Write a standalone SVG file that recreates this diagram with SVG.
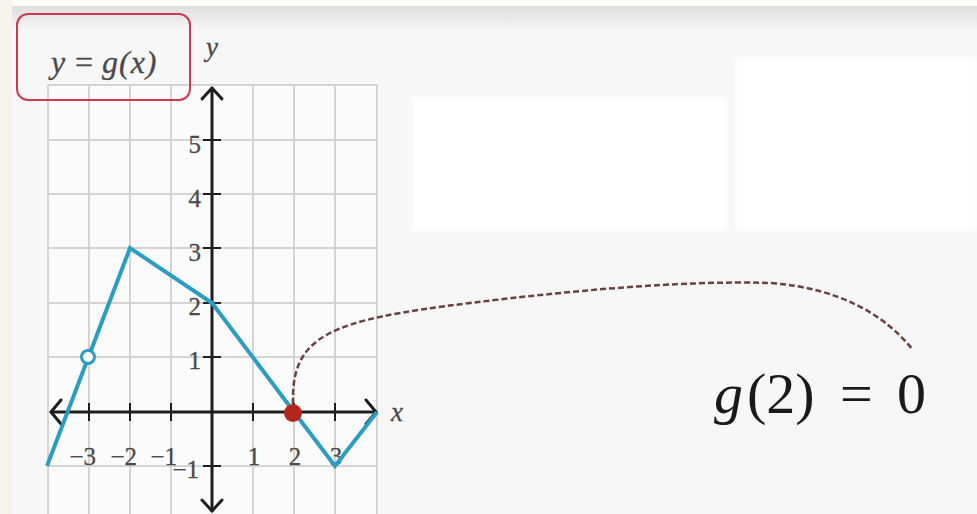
<svg xmlns="http://www.w3.org/2000/svg" width="977" height="514" viewBox="0 0 977 514">
  <defs>
    <linearGradient id="topShade" x1="0" y1="0" x2="0" y2="1">
      <stop offset="0" stop-color="#dedede"/>
      <stop offset="1" stop-color="#f7f7f7"/>
    </linearGradient>
    <filter id="soft" x="-5%" y="-5%" width="110%" height="110%">
      <feGaussianBlur stdDeviation="2"/>
    </filter>
  </defs>
  <style>
    .grid { stroke: #d4d4d4; stroke-width: 2; fill: none; }
    .axis { stroke: #1e1e1e; stroke-width: 3; fill: none; stroke-linecap: round; stroke-linejoin: round; }
    .tick { stroke: #1e1e1e; stroke-width: 2; }
    .fn { stroke: #2a9dc1; stroke-width: 4; fill: none; stroke-linejoin: miter; }
    .lbl { font-family: "Liberation Serif", "DejaVu Serif", serif; font-size: 25px; fill: #4a4a4a; stroke: #4a4a4a; stroke-width: 0.3; }
    .var { font-family: "Liberation Serif", "DejaVu Serif", serif; font-style: italic; font-size: 27px; fill: #4a4a4a; stroke: #4a4a4a; stroke-width: 0.3; }
    .title { font-size: 32px; }
    .big { font-family: "Liberation Serif", "DejaVu Serif", serif; font-size: 58px; fill: #1a1a1a; }
    .conn { stroke: #6a4040; stroke-width: 2.5; fill: none; stroke-dasharray: 6 3; }
  </style>

  <!-- background -->
  <rect x="0" y="0" width="977" height="514" fill="#f7f7f7"/>
  <rect x="0" y="6" width="977" height="26" fill="url(#topShade)"/>
  <rect x="0" y="0" width="977" height="6" fill="#fcfcf8"/>
  <rect x="0" y="0" width="12" height="514" fill="#f4f4ea"/>
  <rect x="413" y="97" width="314" height="133" fill="#ffffff" filter="url(#soft)"/>
  <rect x="735" y="58" width="242" height="172" fill="#ffffff" filter="url(#soft)"/>

  <g id="graph">
    <rect x="48" y="85" width="330" height="429" fill="#fbfbfb"/>
    <g class="grid">
      <line x1="48" y1="85" x2="48" y2="514"/>
      <line x1="89" y1="85" x2="89" y2="514"/>
      <line x1="130" y1="85" x2="130" y2="514"/>
      <line x1="171" y1="85" x2="171" y2="514"/>
      <line x1="253" y1="85" x2="253" y2="514"/>
      <line x1="294" y1="85" x2="294" y2="514"/>
      <line x1="335" y1="85" x2="335" y2="514"/>
      <line x1="377" y1="85" x2="377" y2="514"/>
      <line x1="48" y1="85" x2="378" y2="85"/>
      <line x1="48" y1="140" x2="378" y2="140"/>
      <line x1="48" y1="194" x2="378" y2="194"/>
      <line x1="48" y1="248" x2="378" y2="248"/>
      <line x1="48" y1="303" x2="378" y2="303"/>
      <line x1="48" y1="357" x2="378" y2="357"/>
      <line x1="48" y1="466" x2="378" y2="466"/>
    </g>
    <!-- axes -->
    <line class="axis" x1="51" y1="412" x2="376" y2="412"/>
    <line class="axis" x1="212" y1="88" x2="212" y2="511"/>
    <polyline class="axis" points="61,400 51,412 61,424"/>
    <polyline class="axis" points="366,400 376,412 366,424"/>
    <polyline class="axis" points="202,99 212,88 222,99"/>
    <polyline class="axis" points="202,500 212,511 222,500"/>
    <!-- ticks -->
    <g class="tick">
      <line x1="89" y1="403" x2="89" y2="421"/>
      <line x1="130" y1="403" x2="130" y2="421"/>
      <line x1="171" y1="403" x2="171" y2="421"/>
      <line x1="253" y1="403" x2="253" y2="421"/>
      <line x1="294" y1="403" x2="294" y2="421"/>
      <line x1="335" y1="403" x2="335" y2="421"/>
      <line x1="203" y1="140" x2="221" y2="140"/>
      <line x1="203" y1="194" x2="221" y2="194"/>
      <line x1="203" y1="248" x2="221" y2="248"/>
      <line x1="203" y1="303" x2="221" y2="303"/>
      <line x1="203" y1="357" x2="221" y2="357"/>
      <line x1="203" y1="466" x2="221" y2="466"/>
    </g>
    <!-- tick labels -->
    <text class="lbl" x="201" y="153" text-anchor="end">5</text>
    <text class="lbl" x="201" y="207" text-anchor="end">4</text>
    <text class="lbl" x="201" y="261" text-anchor="end">3</text>
    <text class="lbl" x="201" y="315" text-anchor="end">2</text>
    <text class="lbl" x="201" y="369" text-anchor="end">1</text>
    <text class="lbl" x="199" y="478" text-anchor="end">−1</text>
    <text class="lbl" x="96" y="465" text-anchor="end">−3</text>
    <text class="lbl" x="137" y="465" text-anchor="end">−2</text>
    <text class="lbl" x="177" y="465" text-anchor="end">−1</text>
    <text class="lbl" x="254" y="465" text-anchor="middle">1</text>
    <text class="lbl" x="295" y="465" text-anchor="middle">2</text>
    <text class="lbl" x="336" y="465" text-anchor="middle">3</text>
    <text class="var" x="212" y="56" text-anchor="middle">y</text>
    <text class="var" x="397" y="421" text-anchor="middle">x</text>
    <!-- function -->
    <polyline class="fn" points="47,466 130,248 212,303 294,412 335,466 377,412"/>
    <circle cx="88" cy="357" r="6.5" fill="#ffffff" stroke="#2a9dc1" stroke-width="3"/>
    <circle cx="293" cy="413" r="9" fill="#b3261b"/>
  </g>

  <g id="label-box">
    <rect x="17" y="14" width="173" height="86" rx="11" fill="none" stroke="#cc3b50" stroke-width="2"/>
    <text class="var title" y="73"><tspan x="51">y</tspan><tspan x="75" font-style="normal">=</tspan><tspan x="102" letter-spacing="1">g(x)</tspan></text>
  </g>

  <g id="connectors">
    <path class="conn" d="M293,404 C291,335 330,320 470,303 C560,292 680,280 770,283 C840,288 885,315 913,350"/>
  </g>

  <g id="annotation">
    <text class="big" y="413"><tspan x="714" font-style="italic">g</tspan><tspan x="747">(2)</tspan><tspan x="840">=</tspan><tspan x="897">0</tspan></text>
  </g>
</svg>
